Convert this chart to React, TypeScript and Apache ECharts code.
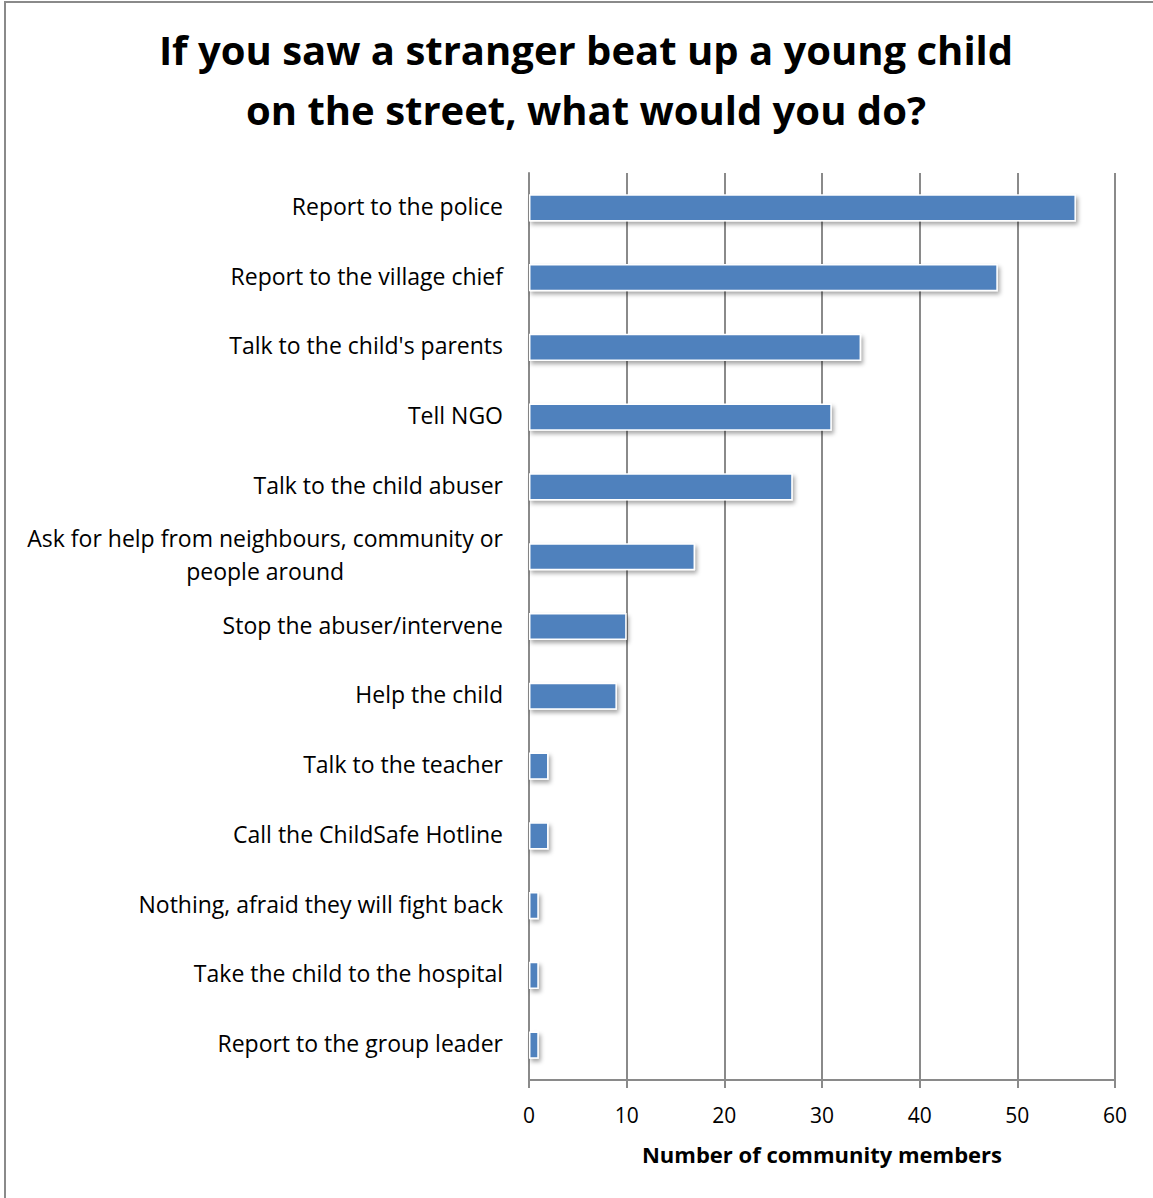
import React, { useEffect, useRef } from "react";
import * as echarts from "echarts";

const titleLines = ["If you saw a stranger beat up a young child", "on the street, what would you do?"];
const categories = [
  "Report to the police",
  "Report to the village chief",
  "Talk to the child's parents",
  "Tell NGO",
  "Talk to the child abuser",
  "Ask for help from neighbours, community or people around",
  "Stop the abuser/intervene",
  "Help the child",
  "Talk to the teacher",
  "Call the ChildSafe Hotline",
  "Nothing, afraid they will fight back",
  "Take the child to the hospital",
  "Report to the group leader",
];
const values = [56, 48, 34, 31, 27, 17, 10, 9, 2, 2, 1, 1, 1];
const xAxisName = "Number of community members";

const FONT = "'Open Sans', sans-serif";
const LABEL_SIZE = 23;

function wrap(label: string): string {
  let lines: string[] = [label];
  if (label.length > 44) {
    const cut = label.lastIndexOf(" ", 43);
    lines = [label.slice(0, cut), label.slice(cut + 1)];
  }
  return lines.map((l) => "{c|" + l + "}").join("\n");
}

export default function App() {
  const ref = useRef<HTMLDivElement>(null);
  useEffect(() => {
    if (!ref.current) return;
    const chart = echarts.init(ref.current, null, { renderer: "svg" });
    chart.setOption({
      animation: false,
      backgroundColor: "#ffffff",
      title: {
        text: titleLines.join("\n"),
        left: 581,
        textAlign: "center",
        top: 14,
        textStyle: {
          fontFamily: FONT,
          fontWeight: "bold",
          fontSize: 40,
          lineHeight: 60,
          color: "#000000",
        },
      },
      graphic: [
        {
          type: "rect",
          shape: { x: 5, y: 2, width: 1300, height: 1300 },
          style: { fill: "none", stroke: "#8a8a8a", lineWidth: 2 },
          silent: true,
        },
      ],
      grid: { left: 529, right: 38, top: 173, bottom: 118, containLabel: false },
      xAxis: {
        type: "value",
        min: 0,
        max: 60,
        interval: 10,
        name: xAxisName,
        nameLocation: "middle",
        nameGap: 63,
        nameTextStyle: { fontFamily: FONT, fontWeight: "bold", fontSize: 22, color: "#000" },
        axisLine: { show: true, lineStyle: { color: "#8a8a8a", width: 2 } },
        axisTick: { show: true, length: 8, lineStyle: { color: "#8a8a8a", width: 2 } },
        axisLabel: { fontFamily: FONT, fontSize: 21, color: "#000", margin: 24 },
        splitLine: { show: true, lineStyle: { color: "#8a8a8a", width: 2 } },
      },
      yAxis: {
        type: "category",
        data: categories,
        inverse: true,
        axisLine: { show: true, lineStyle: { color: "#8a8a8a", width: 2 } },
        axisTick: { show: false },
        axisLabel: {
          fontFamily: FONT,
          fontSize: LABEL_SIZE,
          color: "#000",
          margin: 26,
          lineHeight: 33,
          align: "right",
          padding: [0, 0, 4, 0],
          formatter: (v: string) => wrap(v),
          rich: {
            c: {
              align: "center",
              fontFamily: FONT,
              fontSize: LABEL_SIZE,
              color: "#000",
              lineHeight: 33,
            },
          },
        },
      },
      series: [
        {
          type: "bar",
          data: values,
          barWidth: "39%",
          itemStyle: {
            color: "#4F81BD",
            borderColor: "#ffffff",
            borderWidth: 1.5,
            shadowColor: "rgba(0,0,0,0.35)",
            shadowBlur: 4,
            shadowOffsetX: 2,
            shadowOffsetY: 3,
          },
        },
      ],
    });
    return () => chart.dispose();
  }, []);
  return (
    <div
      ref={ref}
      style={{ position: "absolute", left: 0, top: 0, width: 1153, height: 1198 }}
    />
  );
}
